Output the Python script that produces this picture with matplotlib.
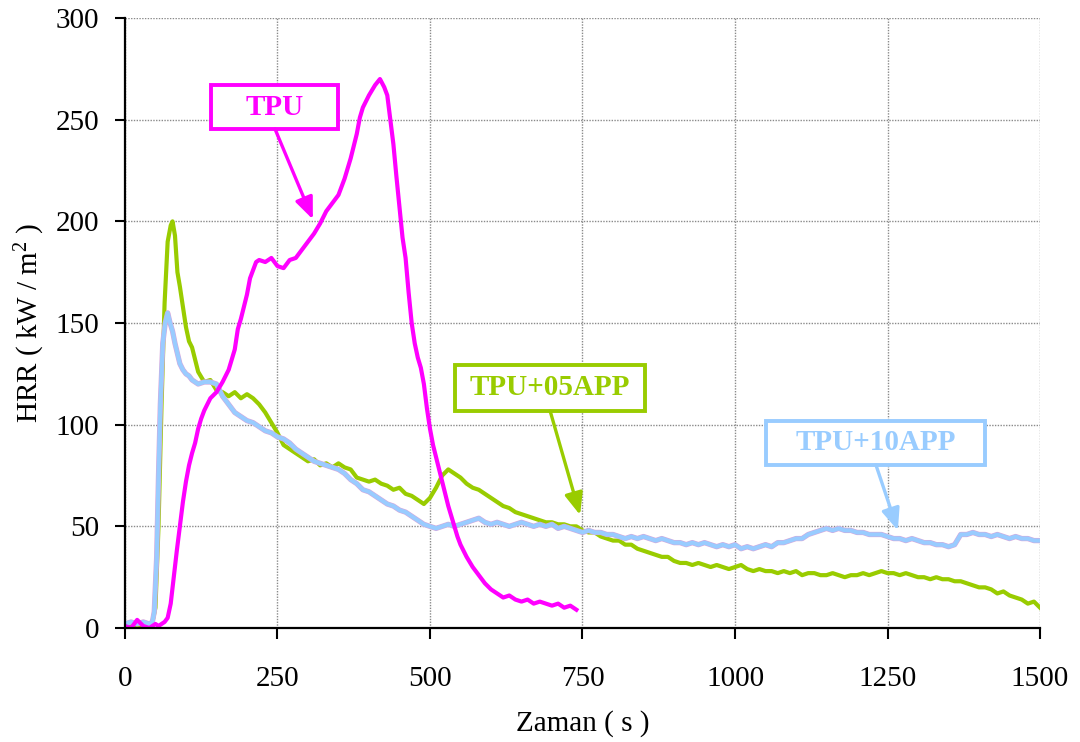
import matplotlib
matplotlib.use("Agg")
import matplotlib.pyplot as plt
from matplotlib.patches import Rectangle
import matplotlib.patheffects as pe

plt.rcParams['font.family'] = ['Liberation Serif', 'DejaVu Serif']
plt.rcParams['mathtext.fontset'] = 'custom'
plt.rcParams['mathtext.rm'] = 'Liberation Serif'
plt.rcParams['mathtext.it'] = 'Liberation Serif:italic'
plt.rcParams['mathtext.bf'] = 'Liberation Serif:bold'

# ---- heat release rate curves (time in s, HRR in kW/m2) ----
tpu_t = [0, 10, 20, 30, 40, 50, 55, 60, 65, 70, 75, 80, 85, 90, 95, 100, 105, 110,
         115, 120, 125, 130, 135, 140, 150, 160, 170, 180, 185, 190, 195, 200, 205,
         210, 215, 220, 230, 240, 250, 260, 270, 280, 290, 300, 310, 320, 330, 340,
         350, 360, 370, 380, 385, 390, 400, 410, 418, 425, 430, 435, 440, 445, 450,
         455, 460, 465, 470, 475, 480, 485, 490, 495, 500, 505, 510, 515, 520, 525,
         530, 535, 540, 545, 550, 560, 570, 580, 590, 600, 610, 620, 630, 640, 650,
         660, 670, 680, 690, 700, 710, 720, 730, 740]
tpu_hrr = [1, 0, 4, 1, 0, 2, 1, 2, 3, 5, 12, 25, 38, 50, 62, 72, 80, 86,
           91, 98, 103, 107, 110, 113, 116, 121, 127, 137, 147, 152, 158, 164, 172,
           176, 180, 181, 180, 182, 178, 177, 181, 182, 186, 190, 194, 199, 205, 209,
           213, 221, 231, 243, 251, 256, 262, 267, 270, 266, 262, 250, 238, 222, 207,
           192, 182, 165, 150, 140, 133, 128, 120, 108, 98, 90, 84, 78, 72, 66,
           60, 55, 50, 45, 41, 35, 30, 26, 22, 19, 17, 15, 16, 14, 13,
           14, 12, 13, 12, 11, 12, 10, 11, 9]

app05_t = [0, 10, 20, 30, 40, 45, 50, 55, 60, 65, 70, 75, 78, 82, 86, 90, 95, 100,
           105, 110, 115] + list(range(120, 1501, 10))
app05_hrr = [1, 2, 1, 2, 2, 3, 10, 50, 110, 160, 190, 198, 200, 193, 175, 168, 158, 148,
             141, 138, 132,
             126, 121, 122, 117, 116, 114, 116, 113, 115, 113, 110, 106, 101, 96, 90, 88,
             86, 84, 82, 83, 80, 81, 79, 81, 79, 78, 74, 73, 72, 73, 71, 70, 68, 69,
             66, 65, 63, 61, 64, 69, 75, 78, 76, 74, 71, 69, 68, 66, 64, 62, 60, 59,
             57, 56, 55, 54, 53, 52, 52, 51, 51, 50, 50, 48, 47, 47, 45, 44, 43, 43,
             41, 41, 39, 38, 37, 36, 35, 35, 33, 32, 32, 31, 32, 31, 30, 31, 30, 29,
             30, 31, 29, 28, 29, 28, 28, 27, 28, 27, 28, 26, 27, 27, 26, 26, 27, 26,
             25, 26, 26, 27, 26, 27, 28, 27, 27, 26, 27, 26, 25, 25, 24, 25, 24, 24,
             23, 23, 22, 21, 20, 20, 19, 17, 18, 16, 15, 14, 12, 13, 10]

app10_t = [0, 10, 20, 30, 40, 45, 48, 52, 55, 58, 62, 66, 70, 74, 78, 82, 86, 90, 95,
           100, 105, 110, 115] + list(range(120, 1501, 10))
app10_hrr = [2, 3, 2, 3, 2, 3, 8, 35, 75, 110, 140, 150, 155, 150, 146, 140, 135, 130, 127,
             125, 124, 122, 121,
             120, 121, 121, 120, 114, 110, 106, 104, 102, 101, 99, 97, 96, 94, 93, 91,
             88, 86, 84, 82, 81, 80, 79, 78, 76, 73, 71, 68, 67, 65, 63, 61, 60, 58,
             57, 55, 53, 51, 50, 49, 50, 51, 50, 51, 52, 53, 54, 52, 51, 52, 51, 50,
             51, 52, 51, 50, 51, 50, 51, 49, 50, 49, 48, 47, 48, 47, 47, 46, 46, 45,
             44, 45, 44, 45, 44, 43, 44, 43, 42, 42, 41, 42, 41, 42, 41, 40, 41, 40,
             41, 39, 40, 39, 40, 41, 40, 42, 42, 43, 44, 44, 46, 47, 48, 49, 48, 49,
             48, 48, 47, 47, 46, 46, 46, 45, 44, 44, 43, 44, 43, 42, 42, 41, 41, 40,
             41, 46, 46, 47, 46, 46, 45, 46, 45, 44, 45, 44, 44, 43, 43]

c_tpu = '#FF00FF'
c_05 = '#99CC00'
c_10 = '#99CCFF'

fig = plt.figure(figsize=(10.8, 7.42), dpi=100)
ax = fig.add_axes([0.1157, 0.1536, 0.8473, 0.8221])

ax.plot(app05_t, app05_hrr, color=c_05, lw=3.0, zorder=3)
ax.plot(app10_t, app10_hrr, color=c_10, lw=3.0, zorder=4,
        path_effects=[pe.Stroke(linewidth=3.8, foreground='#D6A8DC'), pe.Normal()])
ax.plot(tpu_t, tpu_hrr, color=c_tpu, lw=3.0, zorder=5)

ax.set_xlim(0, 1500)
ax.set_ylim(0, 300)
ax.set_xticks([0, 250, 500, 750, 1000, 1250, 1500])
ax.set_yticks([0, 50, 100, 150, 200, 250, 300])

ax.grid(True, color='#8a8a8a', linestyle=(0, (1, 1)), linewidth=1.0, zorder=0)
ax.set_axisbelow(True)
for side in ('top', 'right'):
    ax.spines[side].set_visible(False)
for side in ('left', 'bottom'):
    ax.spines[side].set_linewidth(1.6)
    ax.spines[side].set_zorder(6)

ax.tick_params(axis='x', direction='out', length=8, width=1.5, pad=19, labelsize=21)
ax.tick_params(axis='y', direction='out', length=7.5, width=1.5, pad=11, labelsize=21)

ax.set_xlabel('Zaman ( s )', fontsize=21, labelpad=13)
ax.set_ylabel('HRR ( kW / m$^{2}$ )', fontsize=21, labelpad=6)


def callout(text, color, box, start, tip, lw):
    x0, y0, x1, y1 = box
    ax.add_patch(Rectangle((x0, y0), x1 - x0, y1 - y0, facecolor='white',
                           edgecolor=color, linewidth=lw, zorder=7))
    ax.text((x0 + x1) / 2, (y0 + y1) / 2, text, color=color, fontsize=21,
            fontweight='bold', ha='center', va='center', zorder=8)
    ax.annotate('', xy=tip, xytext=start, zorder=8,
                arrowprops=dict(arrowstyle='-|>,head_length=0.6,head_width=0.25',
                                color=color, lw=2.4,
                                mutation_scale=22, shrinkA=0, shrinkB=0))


callout('TPU', c_tpu, (141, 245.4, 349, 267.0), (246, 245.4), (308, 201), 2.8)
callout('TPU+05APP', c_05, (541, 106.7, 852, 129.4), (697, 106.7), (746, 55.6), 2.8)
callout('TPU+10APP', c_10, (1051, 80.2, 1410, 101.8), (1231, 80.2), (1267, 48), 2.8)

fig.savefig('out.png', dpi=100)
